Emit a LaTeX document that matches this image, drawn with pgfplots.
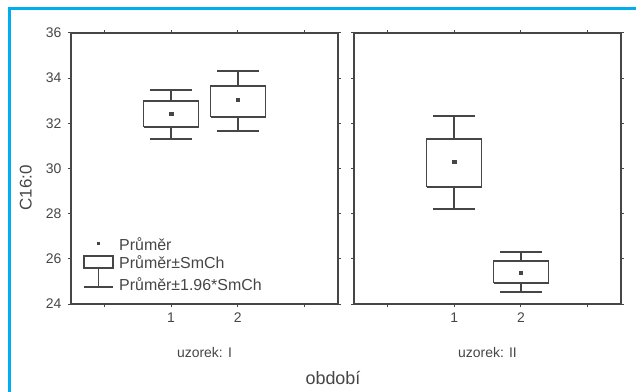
\documentclass[border=0pt]{standalone}
\usepackage{pgfplots}
\pgfplotsset{compat=1.18}
\usepackage{fontspec}
\setmainfont{Liberation Sans}
\definecolor{frameblue}{RGB}{0,174,239}
\definecolor{ink}{RGB}{70,70,70}
\pgfplotsset{
 every axis/.append style={
  tick label style={font=\fontsize{14}{15}\selectfont, text=ink},
  yticklabel style={xshift=-3bp},
  xticklabel style={yshift=-2bp},
  xlabel style={font=\fontsize{14}{15}\selectfont, text=ink, at={(axis description cs:0.5,0)}, anchor=center, yshift=-49bp},
 },
 panel/.style={
  anchor=south west, scale only axis, width=267bp, height=271bp,
  xmin=-0.5, xmax=3.5, ymin=24, ymax=36,
  xtick={0,1,2,3}, xticklabels={,1,2,}, ytick={24,26,...,36},
  tick align=outside, major tick length=3bp,
  axis line style={ink, line width=1.4bp},
  every tick/.style={ink, line width=1bp},
  unbounded coords=jump,
  /pgf/number format/assume math mode=true,
 },
 boxline/.style={ink, line width=1.4bp, mark=none, line join=miter},
}
\begin{document}
\begin{tikzpicture}
\path[use as bounding box] (0,0) rectangle (636bp,392bp);
\fill[white] (0,0) rectangle (636bp,392bp);
\draw[frameblue, line width=3bp] (9.5bp,0) -- (9.5bp,383.5bp) -- (636bp,383.5bp);
\begin{axis}[panel, at={(71bp,88bp)}, xlabel={uzorek: I}, ylabel={C16:0},
  ylabel style={font=\fontsize{17}{18}\selectfont, text=ink, at={(axis description cs:-0.169,0.428)}, anchor=center}]
% group 1: lower whisker 31.31, box 31.84..32.99, mean 32.41, upper whisker 33.48
\addplot[boxline] coordinates {(0.59,31.84) (1.41,31.84) (1.41,32.99) (0.59,32.99) (0.59,31.84) (1,nan)
  (1,32.99) (1,33.48) (1,nan) (0.69,33.48) (1.31,33.48) (1,nan)
  (1,31.84) (1,31.31) (1,nan) (0.69,31.31) (1.31,31.31)};
% group 2: lower whisker 31.66, box 32.28..33.65, mean 33.03, upper whisker 34.32
\addplot[boxline] coordinates {(1.59,32.28) (2.41,32.28) (2.41,33.65) (1.59,33.65) (1.59,32.28) (2,nan)
  (2,33.65) (2,34.32) (2,nan) (1.69,34.32) (2.31,34.32) (2,nan)
  (2,32.28) (2,31.66) (2,nan) (1.69,31.66) (2.31,31.66)};
\addplot[only marks, mark=square*, mark size=1.6bp, ink] coordinates {(1,32.41) (2,33.03)};
\end{axis}
\begin{axis}[panel, at={(354bp,88bp)}, yticklabels={}, xlabel={uzorek: II}]
% group 1: lower whisker 28.2, box 29.18..31.31, mean 30.29, upper whisker 32.32
\addplot[boxline] coordinates {(0.59,29.18) (1.41,29.18) (1.41,31.31) (0.59,31.31) (0.59,29.18) (1,nan)
  (1,31.31) (1,32.32) (1,nan) (0.69,32.32) (1.31,32.32) (1,nan)
  (1,29.18) (1,28.2) (1,nan) (0.69,28.2) (1.31,28.2)};
% group 2: lower whisker 24.53, box 24.93..25.90, mean 25.37, upper whisker 26.30
\addplot[boxline] coordinates {(1.59,24.93) (2.41,24.93) (2.41,25.90) (1.59,25.90) (1.59,24.93) (2,nan)
  (2,25.90) (2,26.30) (2,nan) (1.69,26.30) (2.31,26.30) (2,nan)
  (2,24.93) (2,24.53) (2,nan) (1.69,24.53) (2.31,24.53)};
\addplot[only marks, mark=square*, mark size=1.6bp, ink] coordinates {(1,30.29) (2,25.37)};
\end{axis}
% legend
\fill[ink] (96.5bp,146.5bp) rectangle (99.5bp,149.5bp);
\draw[ink, line width=1.3bp] (84bp,136bp) rectangle (113bp,124bp);
\draw[ink, line width=1.3bp] (98.5bp,124bp) -- (98.5bp,105bp) (84bp,105bp) -- (113bp,105bp);
\begin{scope}[every node/.style={anchor=west, inner sep=0pt, text=ink, font=\fontsize{16}{17}\selectfont}]
\node at (119bp,148bp) {Průměr};
\node at (119bp,130bp) {Průměr±SmCh};
\node at (119bp,108bp) {Průměr±1.96*SmCh};
\end{scope}
\node[text=ink, font=\fontsize{18}{19}\selectfont] at (333bp,14bp) {období};
\end{tikzpicture}
\end{document}
